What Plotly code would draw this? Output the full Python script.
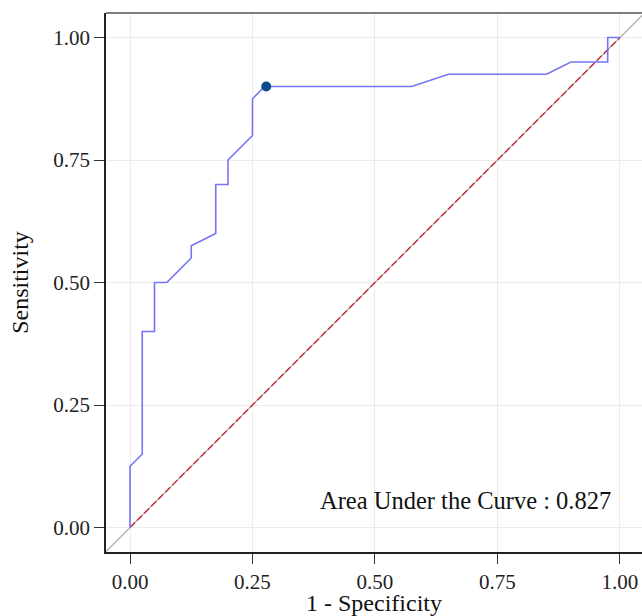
import plotly.graph_objects as go

# ROC curve (1 - specificity, sensitivity)
fpr = [0.0, 0.0, 0.025, 0.025, 0.05, 0.05, 0.075, 0.125, 0.125, 0.175, 0.175, 0.2, 0.2,
       0.25, 0.25, 0.275, 0.575, 0.65, 0.85, 0.9, 0.975, 0.975, 1.0]
tpr = [0.0, 0.125, 0.15, 0.4, 0.4, 0.5, 0.5, 0.55, 0.575, 0.6, 0.7, 0.7, 0.75,
       0.8, 0.875, 0.9, 0.9, 0.925, 0.925, 0.95, 0.95, 1.0, 1.0]
best_point_x = [0.278]
best_point_y = [0.9]
ref_x = [0.0, 1.0]
ref_y = [0.0, 1.0]
abline_x = [-0.1, 1.1]
abline_y = [-0.1, 1.1]
auc_value = 0.827
tick_vals = [0.0, 0.25, 0.5, 0.75, 1.0]
tick_text = ["0.00", "0.25", "0.50", "0.75", "1.00"]

FONT = "Liberation Serif, Times New Roman, serif"

fig = go.Figure()
fig.add_trace(go.Scatter(x=abline_x, y=abline_y, mode="lines",
                         line=dict(color="#b5b5b5", width=1.4), hoverinfo="skip"))
fig.add_trace(go.Scatter(x=ref_x, y=ref_y, mode="lines",
                         line=dict(color="#cc2a3a", width=1.4, dash="7px,3px"), hoverinfo="skip"))
fig.add_trace(go.Scatter(x=fpr, y=tpr, mode="lines",
                         line=dict(color="#7474f6", width=1.6)))
fig.add_trace(go.Scatter(x=best_point_x, y=best_point_y, mode="markers",
                         marker=dict(color="#0b4d8a", size=10)))

fig.add_annotation(x=0.684, y=0.055, xref="x", yref="y",
                   text=f"Area Under the Curve : {auc_value}", showarrow=False,
                   font=dict(family=FONT, size=24.5, color="#111111"))

# top panel border
fig.add_shape(type="line", xref="paper", yref="paper", x0=0, x1=1, y0=1, y1=1,
              line=dict(color="#555555", width=1.5))

axis_common = dict(
    showgrid=True, gridcolor="#ebebeb", gridwidth=1,
    zeroline=False, showline=True, linecolor="#222222", linewidth=1.6,
    ticks="outside", ticklen=10, tickwidth=1.2, tickcolor="#333333",
    tickvals=tick_vals, ticktext=tick_text,
    tickfont=dict(family=FONT, size=21, color="#222222"),
    mirror=False,
)

fig.update_xaxes(range=[-0.049, 1.045], title=dict(text="1 - Specificity", standoff=6,
                 font=dict(family=FONT, size=24, color="#111111")), **axis_common)
fig.update_yaxes(range=[-0.05, 1.05], title=dict(text="Sensitivity", standoff=18,
                 font=dict(family=FONT, size=24, color="#111111")), **axis_common)

fig.update_layout(
    width=642, height=616,
    margin=dict(l=106, r=0, t=13, b=64, autoexpand=False),
    plot_bgcolor="white", paper_bgcolor="white",
    showlegend=False,
)

# remove the page's default body margin so the figure fills the window exactly
fig.write_html("out.html", config={"displayModeBar": False},
               post_script="document.body.style.margin='0';document.body.style.overflow='hidden';")
